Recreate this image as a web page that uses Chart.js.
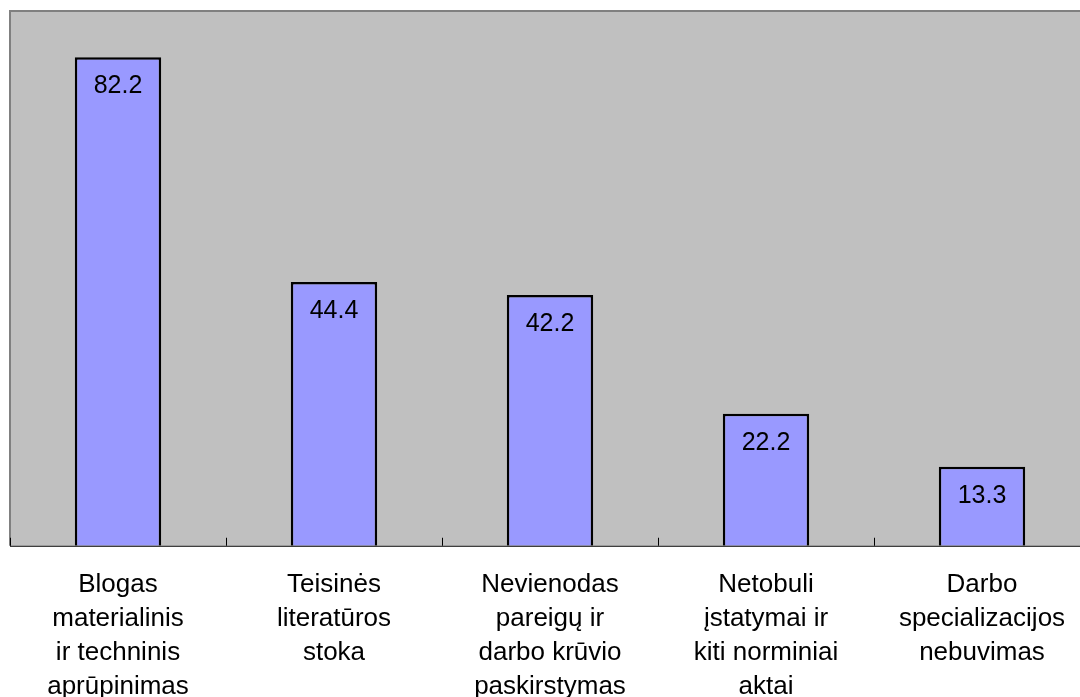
<!DOCTYPE html>
<html>
<head>
<meta charset="utf-8">
<script src="https://cdn.jsdelivr.net/npm/chart.js@4/dist/chart.umd.min.js"></script>
<style>
  html, body { margin: 0; padding: 0; background: #fff; overflow: hidden; }
  #chart { display: block; }
</style>
</head>
<body>
<canvas id="chart" width="1090" height="726"></canvas>
<script>
// Chart data
const categories = [
    ['Blogas', 'materialinis', 'ir techninis', 'aprūpinimas'],
    ['Teisinės', 'literatūros', 'stoka'],
    ['Nevienodas', 'pareigų ir', 'darbo krūvio', 'paskirstymas'],
    ['Netobuli', 'įstatymai ir', 'kiti norminiai', 'aktai'],
    ['Darbo', 'specializacijos', 'nebuvimas']
];
const values = [82.2, 44.4, 42.2, 22.2, 13.3];
const yMin = 0;
const yMax = 90;

const fontFamily = "'Liberation Sans', Arial, sans-serif";

// Gray plot area, border, inner tick marks and value labels
const plotDecor = {
    id: 'plotDecor',
    beforeDatasetsDraw(chart) {
        const { ctx, chartArea: a } = chart;
        ctx.save();
        ctx.fillStyle = '#C0C0C0';
        ctx.fillRect(a.left, a.top, a.right - a.left, a.bottom - a.top);
        ctx.restore();
    },
    afterDatasetsDraw(chart) {
        const { ctx, chartArea: a } = chart;
        const n = categories.length;
        const step = (a.right - a.left) / n;
        ctx.save();

        // top and left border
        ctx.strokeStyle = '#808080';
        ctx.lineWidth = 2;
        ctx.beginPath();
        ctx.moveTo(a.left, a.bottom);
        ctx.lineTo(a.left, a.top);
        ctx.lineTo(a.right + 2, a.top);
        ctx.stroke();

        // category axis with inner ticks
        ctx.strokeStyle = '#000';
        ctx.lineWidth = 1;
        ctx.beginPath();
        ctx.moveTo(a.left, a.bottom + 0.5);
        ctx.lineTo(a.right, a.bottom + 0.5);
        for (let i = 0; i <= n; i++) {
            const x = Math.round(a.left + i * step) + 0.5;
            ctx.moveTo(x, a.bottom);
            ctx.lineTo(x, a.bottom - 8);
        }
        ctx.stroke();

        // value labels inside the bars
        ctx.fillStyle = '#000';
        ctx.font = '25px ' + fontFamily;
        ctx.textAlign = 'center';
        ctx.textBaseline = 'middle';
        chart.getDatasetMeta(0).data.forEach((bar, i) => {
            ctx.fillText(values[i].toFixed(1), bar.x, bar.y + 29);
        });
        ctx.restore();
    }
};

new Chart(document.getElementById('chart'), {
    type: 'bar',
    data: {
        labels: categories,
        datasets: [{
            data: values,
            backgroundColor: '#9999FF',
            borderColor: '#000000',
            borderWidth: 2.5,
            barPercentage: 0.4,
            categoryPercentage: 1.0
        }]
    },
    options: {
        responsive: false,
        animation: false,
        devicePixelRatio: 1,
        layout: {
            padding: { top: 11, left: 10, right: 0, bottom: 0 }
        },
        plugins: {
            legend: { display: false },
            tooltip: { enabled: false }
        },
        scales: {
            x: {
                grid: { display: false, drawTicks: false },
                border: { display: false },
                ticks: {
                    color: '#000',
                    padding: 22,
                    maxRotation: 0,
                    autoSkip: false,
                    font: { family: fontFamily, size: 26, lineHeight: 1.31 }
                }
            },
            y: {
                display: false,
                min: yMin,
                max: yMax
            }
        }
    },
    plugins: [plotDecor]
});
</script>
</body>
</html>
